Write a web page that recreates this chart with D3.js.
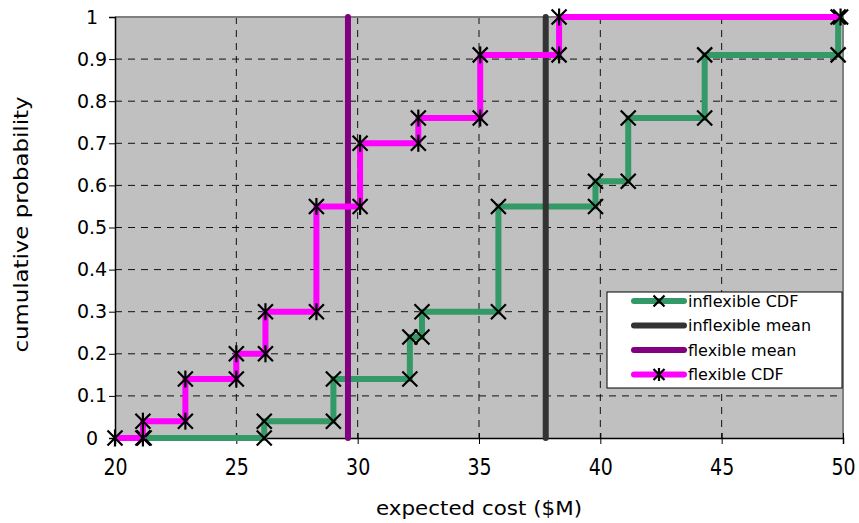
<!DOCTYPE html>
<html>
<head>
<meta charset="utf-8">
<script src="https://cdn.jsdelivr.net/npm/d3@7"></script>
<style>
  body { margin: 0; background: #fff; }
  text { font-family: "DejaVu Sans", Verdana, sans-serif; fill: #000; }
</style>
</head>
<body>
<div id="chart"></div>
<script>
// step points (cost $M, cumulative probability)
var inflexCost = [21.2, 26.15, 26.15, 29.0, 29.0, 32.15, 32.15, 32.65, 32.65, 35.8, 35.8, 39.8, 39.8, 41.15, 41.15, 44.3, 44.3, 49.8, 49.8]
var inflexProb = [0, 0, 0.04, 0.04, 0.14, 0.14, 0.24, 0.24, 0.3, 0.3, 0.55, 0.55, 0.61, 0.61, 0.76, 0.76, 0.91, 0.91, 1]
var flexCost = [20, 21.15, 21.15, 22.9, 22.9, 25.0, 25.0, 26.2, 26.2, 28.3, 28.3, 30.1, 30.1, 32.5, 32.5, 35.05, 35.05, 38.3, 38.3, 49.9]
var flexProb = [0, 0, 0.04, 0.04, 0.14, 0.14, 0.2, 0.2, 0.3, 0.3, 0.55, 0.55, 0.7, 0.7, 0.76, 0.76, 0.91, 0.91, 1, 1]
var inflexMean = 37.75
var flexMean = 29.6

var xTicks = [20, 25, 30, 35, 40, 45, 50]
var yTicks = [0, 0.1, 0.2, 0.3, 0.4, 0.5, 0.6, 0.7, 0.8, 0.9, 1]
var legendNames = ['inflexible CDF', 'inflexible mean', 'flexible mean', 'flexible CDF']

var green = '#339966', dark = '#333333', purple = '#800080', pink = '#FF00FF'

var margin = {top: 17, right: 16, bottom: 85, left: 115},
  width = 859 - margin.left - margin.right,
  height = 523 - margin.top - margin.bottom

var svg = d3.select("#chart")
  .append("svg")
  .attr("width", 859)
  .attr("height", 523)
  .append("g")
  .attr("transform", "translate(" + margin.left + "," + margin.top + ")")

var x = d3.scaleLinear().domain([20, 50]).range([0, width])
var y = d3.scaleLinear().domain([0, 1]).range([height, 0])

// plot area
svg.append("rect")
  .attr("width", width).attr("height", height)
  .attr("fill", "#c0c0c0")

// grid
svg.selectAll(".hgrid")
  .data(yTicks.slice(1, -1))
  .join("line")
  .attr("x1", 0).attr("x2", width)
  .attr("y1", d => y(d)).attr("y2", d => y(d))
  .attr("stroke", "#111").attr("stroke-width", 1)
  .attr("stroke-dasharray", "7,6")

svg.selectAll(".vgrid")
  .data(xTicks.slice(1, -1))
  .join("line")
  .attr("x1", d => x(d)).attr("x2", d => x(d))
  .attr("y1", 0).attr("y2", height)
  .attr("stroke", "#111").attr("stroke-width", 1)
  .attr("stroke-dasharray", "7,6")

// top/right border
svg.append("path")
  .attr("d", "M0,0H" + width + "V" + height)
  .attr("fill", "none").attr("stroke", "#808080").attr("stroke-width", 2)

// axes
var yAxis = svg.append("g")
  .call(d3.axisLeft(y).tickValues(yTicks).tickSize(6).tickPadding(4)
    .tickFormat(d => d === 0 || d === 1 ? d3.format("d")(d) : d3.format(".1f")(d)))
yAxis.select(".domain").attr("stroke", "#000").attr("stroke-width", 1.5)
yAxis.selectAll("text")
  .attr("x", -23).attr("text-anchor", "middle")
  .style("font-size", "19px")

var xAxis = svg.append("g")
  .attr("transform", "translate(0," + height + ")")
  .call(d3.axisBottom(x).tickValues(xTicks).tickSize(6).tickPadding(14))
xAxis.select(".domain").attr("stroke", "#000").attr("stroke-width", 1.5)
xAxis.selectAll(".tick line").attr("y1", -5)
xAxis.selectAll("text")
  .attr("y", 0).attr("dy", null)
  .attr("transform", "translate(0,37) scale(1,1.2)")
  .style("font-size", "19px")

svg.append("text")
  .attr("x", width / 2).attr("y", height + 77)
  .attr("text-anchor", "middle")
  .attr("textLength", 206).attr("lengthAdjust", "spacingAndGlyphs")
  .style("font-size", "19px")
  .text("expected cost ($M)")

svg.append("text")
  .attr("transform", "translate(" + (-93) + "," + (height / 2 - 3) + ") rotate(-90)")
  .attr("text-anchor", "middle")
  .attr("dominant-baseline", "middle")
  .attr("textLength", 256).attr("lengthAdjust", "spacingAndGlyphs")
  .style("font-size", "19px")
  .text("cumulative probability")

var line = d3.line().x(d => x(d[0])).y(d => y(d[1]))

function markX(g, px, py, r) {
  g.append("path")
    .attr("d", "M" + (px - r) + "," + (py - r) + "L" + (px + r) + "," + (py + r) +
      "M" + (px - r) + "," + (py + r) + "L" + (px + r) + "," + (py - r))
    .attr("stroke", "#000").attr("stroke-width", 2.2).attr("fill", "none")
}
function markStar(g, px, py, r) {
  markX(g, px, py, r)
  g.append("path")
    .attr("d", "M" + px + "," + (py - r - 1) + "V" + (py + r + 1))
    .attr("stroke", "#000").attr("stroke-width", 2.2)
}

// inflexible CDF
var inflexPts = inflexCost.map((c, i) => [c, inflexProb[i]])
var gIn = svg.append("g")
gIn.append("path").datum(inflexPts)
  .attr("d", line).attr("fill", "none")
  .attr("stroke", green).attr("stroke-width", 6).attr("stroke-linejoin", "round")
inflexPts.forEach(d => markX(gIn, x(d[0]), y(d[1]), 7.5))

// means
svg.append("line")
  .attr("x1", x(inflexMean)).attr("x2", x(inflexMean))
  .attr("y1", y(0)).attr("y2", y(1))
  .attr("stroke", dark).attr("stroke-width", 6).attr("stroke-linecap", "round")
svg.append("line")
  .attr("x1", x(flexMean)).attr("x2", x(flexMean))
  .attr("y1", y(0)).attr("y2", y(1))
  .attr("stroke", purple).attr("stroke-width", 6).attr("stroke-linecap", "round")

// flexible CDF
var flexPts = flexCost.map((c, i) => [c, flexProb[i]])
var gFl = svg.append("g")
gFl.append("path").datum(flexPts)
  .attr("d", line).attr("fill", "none")
  .attr("stroke", pink).attr("stroke-width", 6).attr("stroke-linejoin", "round")
flexPts.forEach(d => markStar(gFl, x(d[0]), y(d[1]), 7.5))

// legend
var leg = svg.append("g").attr("transform", "translate(" + (607 - margin.left) + "," + (292 - margin.top) + ")")
leg.append("rect")
  .attr("width", 235).attr("height", 96)
  .attr("fill", "#fff").attr("stroke", "#000").attr("stroke-width", 1)
var legColors = [green, dark, purple, pink]
legendNames.forEach(function(name, i) {
  var ly = 9 + i * 24.5
  leg.append("line")
    .attr("x1", 27).attr("x2", 77).attr("y1", ly).attr("y2", ly)
    .attr("stroke", legColors[i]).attr("stroke-width", 6).attr("stroke-linecap", "round")
  if (i === 0) markX(leg, 52, ly, 5.5)
  if (i === 3) markStar(leg, 52, ly, 5.5)
  leg.append("text")
    .attr("x", 81).attr("y", ly + 5.5)
    .style("font-size", "16px")
    .text(name)
})
</script>
</body>
</html>
